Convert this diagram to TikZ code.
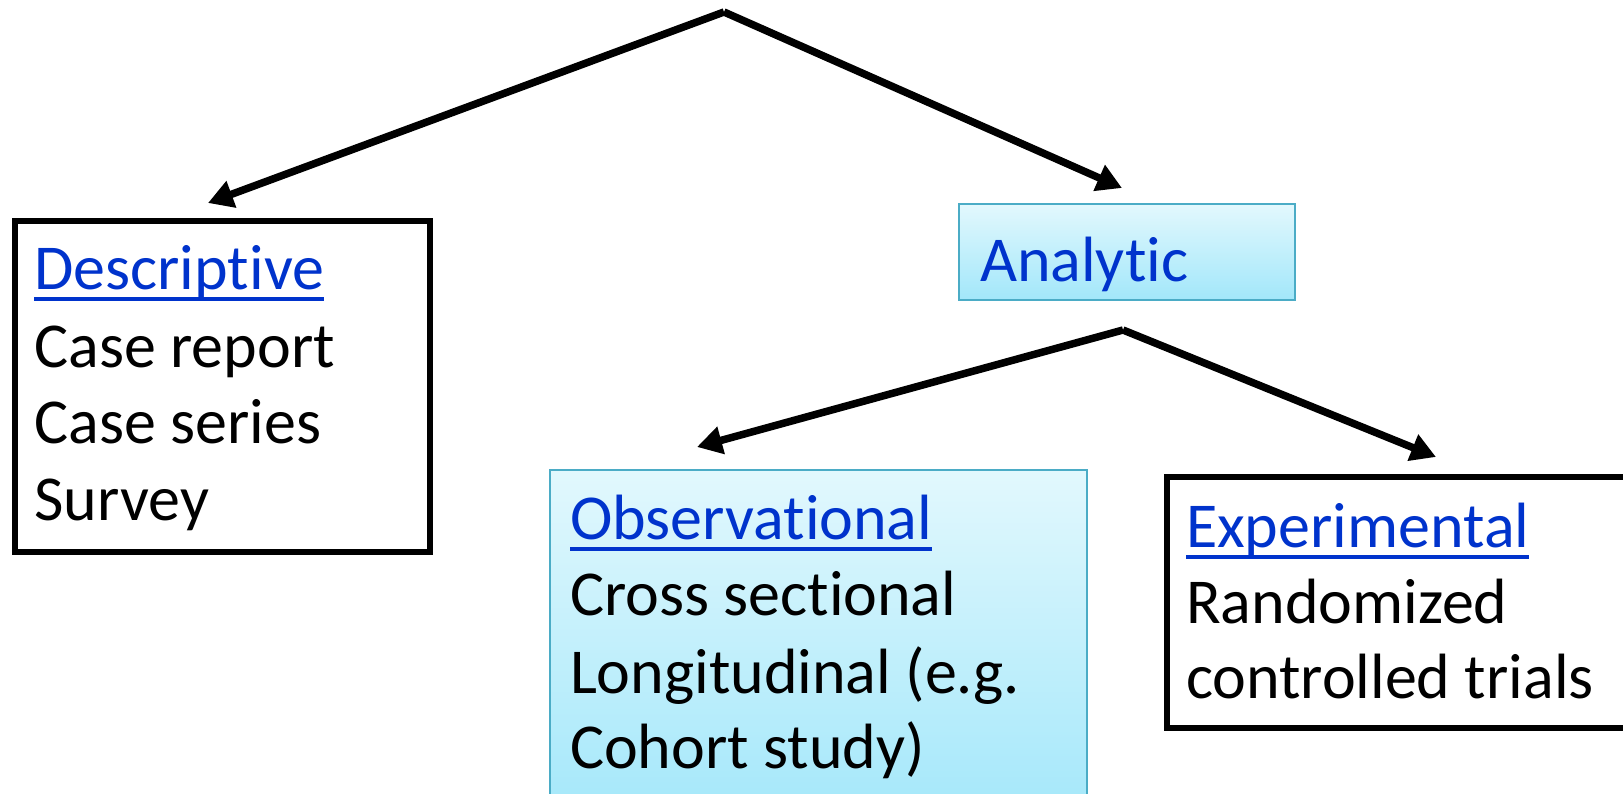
\documentclass[tikz,border=0pt]{standalone}
\usepackage{fontspec}
\setmainfont{Carlito}[Ligatures={NoCommon}]
\usetikzlibrary{arrows.meta}
\definecolor{linkblue}{RGB}{0,51,204}
\definecolor{aquaborder}{RGB}{75,172,198}
\definecolor{aquatop}{RGB}{226,248,253}
\definecolor{aquabot}{RGB}{162,231,250}
\newcommand{\ulink}[1]{\setbox0=\hbox{#1}\rlap{\rule[-11.5pt]{\wd0}{4pt}}\box0}
\begin{document}
\begin{tikzpicture}[x=1pt,y=-1pt,
  every node/.style={inner sep=0pt, outer sep=0pt},
  txt/.style={anchor=base west, font=\fontsize{64pt}{77pt}\selectfont, text=black},
  head/.style={txt, text=linkblue},
  plainbox/.style={draw=black, line width=6pt, fill=white, rectangle},
  aquabox/.style={draw=aquaborder, line width=2pt, top color=aquatop, bottom color=aquabot, rectangle},
  conn/.style={line width=7.5pt, -{Triangle[length=25pt,width=27pt]}},
]
\useasboundingbox (0,0) rectangle (1623,794);
\begin{scope}
\clip (0,0) rectangle (1623,794);
% boxes
\node[plainbox, minimum width=415pt, minimum height=331pt] (desc) at (222.5,386.5) {};
\node[aquabox, minimum width=336pt, minimum height=96pt] (anal) at (1126.5,252.5) {};
\node[aquabox, minimum width=537.5pt, minimum height=360pt] (obs) at (818.25,649.5) {};
\node[plainbox, minimum width=493pt, minimum height=251pt] (exp) at (1413.5,602.5) {};
% texts
\node[head] (descH) at (34.3,290) {\ulink{Descriptive}};
\node[txt] (desc1) at (34.3,367) {Case report};
\node[txt] (desc2) at (34.3,443) {Case series};
\node[txt] (desc3) at (34.3,520) {Survey};
\node[head] (analH) at (980,282) {Analytic};
\node[head] (obsH) at (570,539) {\ulink{Observational}};
\node[txt] (obs1) at (570,615) {Cross sectional};
\node[txt] (obs2) at (570,693) {Longitudinal (e.g.};
\node[txt] (obs3) at (570,768) {Cohort study)};
\node[head] (expH) at (1186,547) {\ulink{Experimental}};
\node[txt] (exp1) at (1186,623) {Randomized};
\node[txt] (exp2) at (1186,698) {controlled trials};
% connectors
\coordinate (apex1) at (724,12);
\coordinate (tipD) at (208,203);
\coordinate (tipA) at (1122,188);
\coordinate (apex2) at (1123,330);
\coordinate (tipO) at (697,447);
\coordinate (tipE) at (1436,457);
\draw[conn] (apex1) -- (tipD);
\draw[conn] (apex1) -- (tipA);
\draw[conn] (apex2) -- (tipO);
\draw[conn] (apex2) -- (tipE);
\end{scope}
\end{tikzpicture}
\end{document}
